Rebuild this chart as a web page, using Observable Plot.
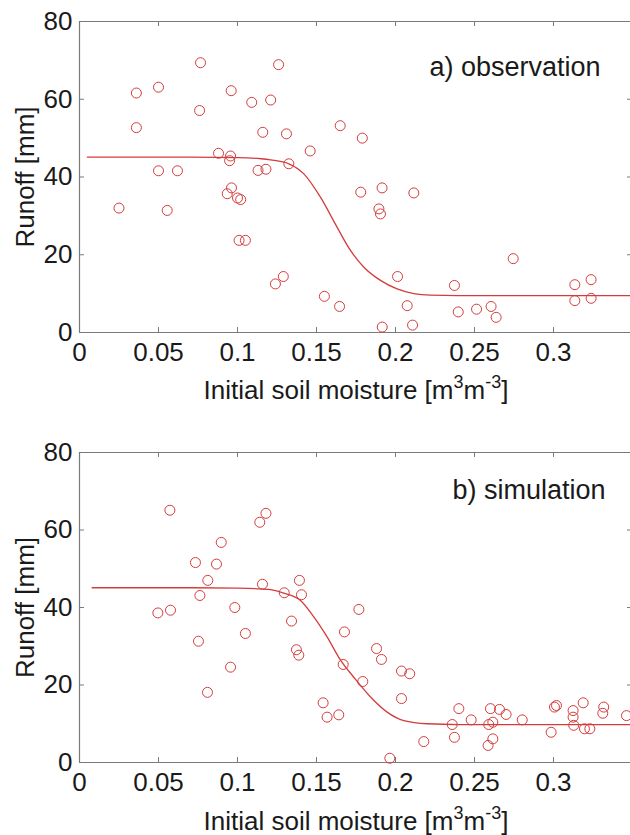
<!DOCTYPE html>
<html>
<head>
<meta charset="utf-8">
<script src="https://cdn.jsdelivr.net/npm/d3@7"></script>
<script src="https://cdn.jsdelivr.net/npm/@observablehq/plot@0.6"></script>
<style>
  html, body { margin: 0; padding: 0; background: #fff; overflow: hidden; }
  #chart svg { display: block; }
</style>
</head>
<body>
<div id="chart"></div>
<script>
// ---- Data ----
const xTicks = [0, 0.05, 0.1, 0.15, 0.2, 0.25, 0.3];
const yTicks = [0, 20, 40, 60, 80];

// a) observation
const obsX = [0.025, 0.036, 0.036, 0.050, 0.050, 0.0555, 0.062, 0.076, 0.0766, 0.088,
  0.0935, 0.095, 0.0956, 0.0962, 0.096, 0.100, 0.102, 0.101, 0.105, 0.109,
  0.113, 0.116, 0.118, 0.121, 0.124, 0.126, 0.129, 0.131, 0.1325, 0.146,
  0.155, 0.1646, 0.165, 0.178, 0.179, 0.1895, 0.1905, 0.1915, 0.1916, 0.2013,
  0.2074, 0.2108, 0.2116, 0.2373, 0.2397, 0.2513, 0.2605, 0.2637, 0.2745, 0.3135,
  0.3135, 0.3238, 0.3238];
const obsY = [32.0, 61.6, 52.7, 63.1, 41.6, 31.4, 41.6, 57.1, 69.4, 46.1,
  35.7, 44.2, 45.4, 37.2, 62.2, 34.6, 34.2, 23.7, 23.7, 59.2,
  41.7, 51.5, 42.0, 59.8, 12.5, 68.9, 14.4, 51.1, 43.4, 46.7,
  9.3, 6.7, 53.2, 36.1, 50.0, 31.8, 30.5, 37.2, 1.4, 14.4,
  6.9, 1.9, 35.9, 12.1, 5.3, 6.0, 6.7, 3.9, 19.0, 12.3,
  8.2, 13.6, 8.8];
const obsFitX = [0.005, 0.06, 0.10, 0.115, 0.121, 0.1325, 0.142, 0.1525, 0.163, 0.1715,
  0.18, 0.1905, 0.201, 0.2116, 0.222, 0.24, 0.35];
const obsFitY = [45.1, 45.1, 45.0, 44.7, 44.4, 43.4, 40.8, 34.8, 27.1, 21.1,
  16.8, 13.4, 11.2, 10.0, 9.6, 9.5, 9.5];

// b) simulation
const simX = [0.0496, 0.0572, 0.0576, 0.0734, 0.0753, 0.0762, 0.081, 0.0812, 0.0867, 0.0897,
  0.0956, 0.0983, 0.105, 0.1141, 0.1158, 0.118, 0.1296, 0.1342, 0.1373, 0.1388,
  0.1392, 0.1405, 0.1542, 0.1567, 0.1641, 0.1669, 0.1677, 0.1768, 0.1793, 0.188,
  0.1911, 0.1964, 0.2038, 0.2038, 0.209, 0.2179, 0.2359, 0.2373, 0.2401, 0.2479,
  0.2586, 0.259, 0.2601, 0.2616, 0.2616, 0.2658, 0.27, 0.2802, 0.2985, 0.3006,
  0.3019, 0.3124, 0.3124, 0.3128, 0.3188, 0.3196, 0.323, 0.3312, 0.3318, 0.3462];
const simY = [38.6, 65.1, 39.3, 51.6, 31.3, 43.1, 18.1, 47.0, 51.2, 56.8,
  24.6, 40.0, 33.3, 62.0, 46.0, 64.3, 43.8, 36.5, 29.1, 27.7,
  47.0, 43.3, 15.4, 11.7, 12.3, 25.3, 33.7, 39.5, 20.9, 29.4,
  26.6, 1.1, 23.6, 16.5, 22.9, 5.4, 9.8, 6.5, 13.9, 11.0,
  4.4, 9.8, 13.9, 10.4, 6.1, 13.7, 12.4, 11.0, 7.8, 14.3,
  14.7, 13.4, 11.7, 9.6, 15.4, 8.7, 8.7, 12.7, 14.3, 12.1];
const simFitX = [0.008, 0.06, 0.10, 0.115, 0.1209, 0.1293, 0.1399, 0.1484, 0.1567, 0.1652,
  0.1736, 0.1842, 0.1947, 0.2053, 0.22, 0.24, 0.35];
const simFitY = [45.1, 45.1, 45.0, 44.8, 44.6, 43.7, 41.8, 37.5, 32.4, 26.4,
  22.0, 16.9, 13.0, 10.8, 10.0, 9.8, 9.8];

const panels = [
  {title: "a) observation", px: obsX, py: obsY, fx: obsFitX, fy: obsFitY,
   height: 417, marginTop: 21, marginBottom: 85, titleDx: -32, titleDy: 54, xLabelDy: 66},
  {title: "b) simulation", px: simX, py: simY, fx: simFitX, fy: simFitY,
   height: 418, marginTop: 35, marginBottom: 73, titleDx: -27, titleDy: 46, xLabelDy: 67}
];

const FONT = "'Liberation Sans', Arial, Helvetica, sans-serif";
const AXIS = "#7a7a7a";
const RED = "#d43c3c";
const xLabel = "Initial soil moisture [m3m-3]";
const yLabel = "Runoff [mm]";

const container = document.getElementById("chart");

for (const p of panels) {
  const pts = p.px.map((x, i) => ({x, y: p.py[i]}));
  const fit = p.fx.map((x, i) => ({x, y: p.fy[i]}));
  const W = 630, ML = 79, MR = -2;
  const plotH = p.height - p.marginTop - p.marginBottom;
  const plotW = W - ML - MR;
  const tick = 5;
  const svg = Plot.plot({
    width: W,
    height: p.height,
    marginLeft: ML,
    marginRight: MR,
    marginTop: p.marginTop,
    marginBottom: p.marginBottom,
    style: {fontFamily: FONT, fontSize: "26px", color: "#1a1a1a", background: "#fff", overflow: "visible"},
    x: {domain: [0, 0.35], ticks: xTicks, tickFormat: d => String(d), tickSize: 0, tickPadding: 10, label: null},
    y: {domain: [0, 80], ticks: yTicks, tickSize: 0, tickPadding: 7, label: null},
    marks: [
      // box
      Plot.ruleY([0, 80], {stroke: AXIS, strokeWidth: 1.2}),
      Plot.ruleX([0, 0.35], {stroke: AXIS, strokeWidth: 1.2}),
      // inward ticks (bottom, top, left, right)
      Plot.tickX(xTicks, {x: d => d, stroke: AXIS, insetTop: plotH - tick}),
      Plot.tickX(xTicks, {x: d => d, stroke: AXIS, insetBottom: plotH - tick}),
      Plot.tickY(yTicks, {y: d => d, stroke: AXIS, insetRight: plotW - tick}),
      Plot.tickY(yTicks, {y: d => d, stroke: AXIS, insetLeft: plotW - tick}),
      // fitted curve
      Plot.line(fit, {x: "x", y: "y", stroke: RED, strokeWidth: 1.3, curve: "monotone-x"}),
      // points
      Plot.dot(pts, {x: "x", y: "y", r: 5, stroke: RED, strokeWidth: 1, fill: "none"}),
      // panel title
      Plot.text([p.title], {frameAnchor: "top-right", textAnchor: "end", lineAnchor: "bottom",
        dx: p.titleDx, dy: p.titleDy, fontSize: 27, fill: "#1a1a1a"}),
      // axis labels
      Plot.text([xLabel], {frameAnchor: "bottom", textAnchor: "middle", lineAnchor: "bottom", dy: p.xLabelDy,
        fontSize: 26, fill: "#1a1a1a"}),
      Plot.text([yLabel], {frameAnchor: "left", textAnchor: "middle", rotate: -90, dx: -54,
        fontSize: 26, fill: "#1a1a1a"})
    ]
  });
  // superscripts in the x label
  svg.querySelectorAll("text").forEach(t => {
    if (t.textContent === xLabel) {
      while (t.firstChild) t.removeChild(t.firstChild);
      const parts = [
        ["Initial soil moisture [m", 0, null],
        ["3", -11, 18],
        ["m", 11, null],
        ["-3", -11, 18],
        ["]", 11, null]
      ];
      for (const [s, dy, fs] of parts) {
        const ts = document.createElementNS("http://www.w3.org/2000/svg", "tspan");
        ts.textContent = s;
        if (dy) ts.setAttribute("dy", dy);
        if (fs) ts.setAttribute("font-size", fs);
        t.appendChild(ts);
      }
    }
  });
  container.appendChild(svg);
}
</script>
</body>
</html>
